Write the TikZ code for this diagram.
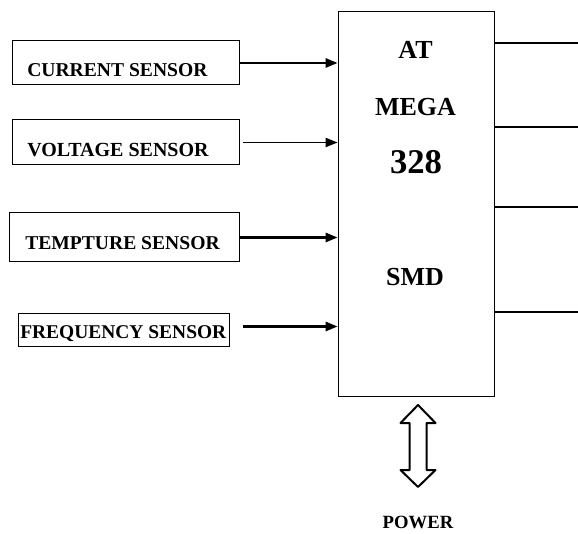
\documentclass[tikz,border=0pt]{standalone}
\usepackage{fontspec}
\setmainfont{Liberation Serif}
\usetikzlibrary{fit,arrows.meta}
\begin{document}
\begin{tikzpicture}[x=0.75pt,y=-0.75pt,
  box/.style={draw,line width=0.75pt,inner sep=0pt},
  lbl/.style={font=\bfseries\fontsize{14.7}{16}\selectfont,inner sep=0pt},
  chip/.style={font=\bfseries\fontsize{19.5}{22}\selectfont,inner sep=0pt},
  arr/.style={line width=1.6pt,-{Triangle[length=9pt,width=7pt]}},
  outl/.style={line width=1.6pt}]
\useasboundingbox (0,0) rectangle (578,534);
% main block
\node[box,fit={(338,12)(494,396)}] (mcu) {};
\node[chip] (t1) at (415.5,50) {AT};
\node[chip] (t2) at (415.5,107) {MEGA};
\node[chip,font=\bfseries\fontsize{26}{28}\selectfont] (t3) at (416,162) {328};
\node[chip] (t4) at (415,277) {SMD};
% sensor boxes
\node[box,fit={(12,41)(239,85)}] (cur) {};
\node[lbl,anchor=west] (curt) at (27,70) {CURRENT SENSOR};
\node[box,fit={(12,120)(239,165)}] (vol) {};
\node[lbl,anchor=west,font=\bfseries\fontsize{15}{16}\selectfont] (volt) at (27,150) {VOLTAGE SENSOR};
\node[box,fit={(9,213)(239,262)}] (tmp) {};
\node[lbl,anchor=west] (tmpt) at (25,243) {TEMPTURE SENSOR};
\node[box,fit={(18,314)(229,347)}] (frq) {};
\node[lbl,anchor=west,font=\bfseries\fontsize{14.6}{16}\selectfont] (frqt) at (20,334) {FREQUENCY SENSOR};
% input arrows
\draw[arr] (cur.east) -- (mcu.west |- cur.east);
\coordinate (va) at ([xshift=2.25pt]vol.east);
\draw[arr,line width=1.1pt] (va) -- (mcu.west |- va);
\draw[arr] (tmp.east) -- (mcu.west |- tmp.east);
\coordinate (fa) at ([shift={(13,-4)}]frq.east);
\draw[arr] (fa) -- (mcu.west |- fa);
% output lines
\coordinate (o1) at (578,43);
\coordinate (o2) at (578,127);
\coordinate (o3) at (578,207);
\coordinate (o4) at (578,312);
\draw[outl] (mcu.east |- o1) -- (o1);
\draw[outl] (mcu.east |- o2) -- (o2);
\draw[outl] (mcu.east |- o3) -- (o3);
\draw[outl] (mcu.east |- o4) -- (o4);
% power double arrow
\draw[line width=1.5pt,line join=round] (418,405) -- (435.5,423) -- (426.5,423) -- (426.5,470) -- (435.5,470)
  -- (418,487) -- (400.5,470) -- (409.5,470) -- (409.5,423) -- (400.5,423) -- cycle;
\node[lbl,font=\bfseries\fontsize{14}{16}\selectfont] (pw) at (418,522) {POWER};
\end{tikzpicture}
\end{document}
